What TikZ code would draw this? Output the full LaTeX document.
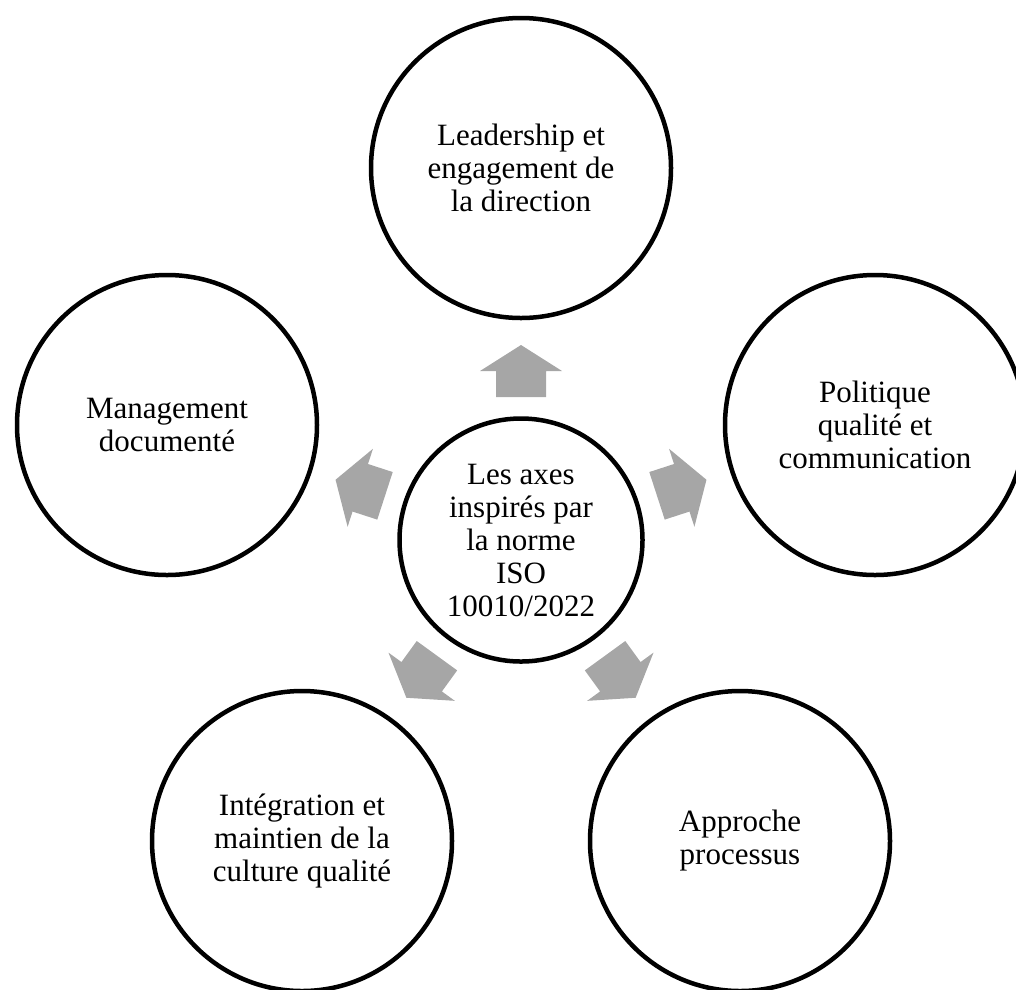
\documentclass[tikz,border=0pt]{standalone}
\usepackage{fontspec}
\setmainfont{Liberation Serif}
\definecolor{arrowgray}{RGB}{166,166,166}
\tikzset{
  bubble/.style={circle, draw=black, line width=4.5pt, fill=white, inner sep=0pt,
    minimum size=300pt, align=center, font=\fontsize{31}{33}\selectfont},
  hub/.style={bubble, minimum size=243pt},
  blockarrow/.style={fill=arrowgray}
}
\newcommand{\radarrow}[1]{%
  \begin{scope}[shift={(c.center)}, rotate=#1]
    \fill[blockarrow] (143,-25) -- (169,-25) -- (169,-41) -- (195,0) -- (169,41) -- (169,25) -- (143,25) -- cycle;
  \end{scope}}
\begin{document}
\begin{tikzpicture}[x=1pt, y=-1pt]
  \useasboundingbox (0,0) rectangle (1016,989);
  \clip (0,0) rectangle (1016,989);
  \node[hub] (c) at (521,540) {Les axes\\inspirés par\\la norme\\ISO\\10010/2022};
  \node[bubble] (t) at (521,168) {Leadership et\\engagement de\\la direction};
  \node[bubble] (r) at (875,425) {Politique\\qualité et\\communication};
  \node[bubble] (l) at (167,425) {Management\\documenté};
  \node[bubble] (bl) at (302,841) {Intégration et\\maintien de la\\culture qualité};
  \node[bubble] (br) at (740,841) {Approche\\processus};
  \radarrow{90}
  \radarrow{18}
  \radarrow{162}
  \radarrow{234}
  \radarrow{306}
\end{tikzpicture}
\end{document}
